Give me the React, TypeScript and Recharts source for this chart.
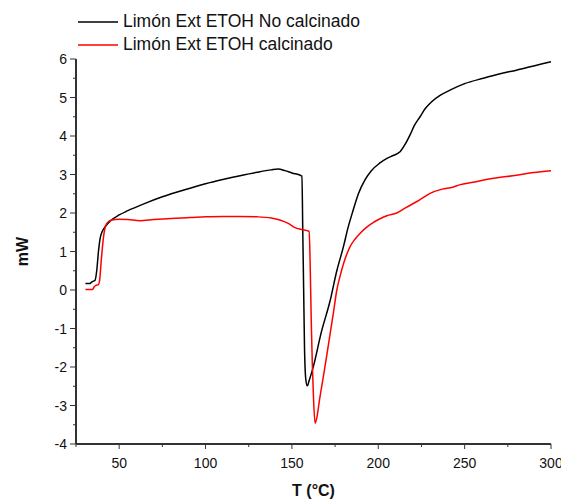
import React from 'react';
import { LineChart, Line, XAxis, YAxis, Legend, Label } from 'recharts';

// Temperature (°C) and heat flow (mW) for the uncalcined sample
const noCalcT = [30.5, 33, 34.5, 36, 37, 38, 39, 40, 42, 45, 50, 55, 65, 75, 90, 100, 110, 120, 130, 138, 142, 146, 150, 155.8, 156.3, 156.8, 157.3, 158, 158.9, 160, 162.4, 167, 172, 176, 179.8, 182.5, 185.5, 188.5, 192.3, 196, 201, 205, 209, 212.6, 215.5, 218.4, 221, 224.2, 227, 230.9, 236, 241.5, 250, 260.8, 270, 280, 290, 300];
const noCalcMw = [0.17, 0.17, 0.22, 0.25, 0.5, 1.0, 1.35, 1.5, 1.65, 1.8, 1.95, 2.06, 2.25, 2.42, 2.63, 2.76, 2.87, 2.97, 3.06, 3.12, 3.14, 3.1, 3.04, 2.96, 1.5, 0, -1.5, -2.3, -2.49, -2.35, -1.99, -1.1, -0.3, 0.5, 1.12, 1.62, 2.08, 2.5, 2.86, 3.1, 3.3, 3.42, 3.5, 3.59, 3.78, 4.03, 4.28, 4.5, 4.7, 4.89, 5.06, 5.19, 5.36, 5.5, 5.61, 5.71, 5.82, 5.93];

// Temperature (°C) and heat flow (mW) for the calcined sample
const calcT = [30.5, 34.5, 35.5, 36.5, 38, 38.8, 39.5, 40.5, 41.5, 42.8, 45.7, 50, 55, 62, 70, 80, 91, 100, 110, 120, 130, 138, 143, 147.9, 151.8, 155.6, 160, 160.6, 161.2, 161.8, 162.5, 163.4, 164.5, 166, 168.2, 170, 172, 174, 176, 178, 180, 183.6, 186.5, 189.4, 193, 197, 201, 205, 210.7, 216, 224, 230, 237, 243, 247, 255, 266.6, 280, 290, 300];
const calcMw = [0.01, 0.01, 0.08, 0.12, 0.14, 0.3, 0.7, 1.2, 1.55, 1.73, 1.82, 1.84, 1.83, 1.8, 1.83, 1.86, 1.88, 1.9, 1.91, 1.91, 1.9, 1.87, 1.82, 1.73, 1.62, 1.57, 1.52, 0.6, -0.8, -1.9, -2.8, -3.46, -3.3, -2.85, -2.25, -1.75, -1.17, -0.6, 0.0, 0.38, 0.7, 1.12, 1.32, 1.47, 1.62, 1.75, 1.85, 1.93, 2.0, 2.14, 2.34, 2.51, 2.62, 2.67, 2.73, 2.8, 2.9, 2.98, 3.05, 3.1];

const xTicks = [25, 50, 75, 100, 125, 150, 175, 200, 225, 250, 275, 300];
const yTicks = [-4, -3.5, -3, -2.5, -2, -1.5, -1, -0.5, 0, 0.5, 1, 1.5, 2, 2.5, 3, 3.5, 4, 4.5, 5, 5.5, 6];

const noCalcData = noCalcT.map((t, i) => ({ t, mw: noCalcMw[i] }));
const calcData = calcT.map((t, i) => ({ t, mw: calcMw[i] }));

const FONT = '"Liberation Sans", Arial, sans-serif';
const AXIS = '#333';

const isMajorX = (v: number) => v % 50 === 0;
const isMajorY = (v: number) => Number.isInteger(v);

const BottomTick = (props: any) => {
  const { x, y, payload } = props;
  const v = payload.value;
  const major = isMajorX(v);
  return (
    <g>
      <line x1={x} x2={x} y1={y} y2={y + (major ? 5 : 3)} stroke={AXIS} strokeWidth={1} />
      {major && (
        <text x={x} y={y + 24} textAnchor="middle" fontFamily={FONT} fontSize={14} fill="#111">
          {v}
        </text>
      )}
    </g>
  );
};

const TopTick = (props: any) => {
  const { x, y, payload } = props;
  const major = isMajorX(payload.value);
  return <line x1={x} x2={x} y1={y} y2={y + (major ? 4 : 3)} stroke={AXIS} strokeWidth={1} />;
};

const LeftTick = (props: any) => {
  const { x, y, payload } = props;
  const v = payload.value;
  const major = isMajorY(v);
  return (
    <g>
      <line x1={x - (major ? 6 : 3)} x2={x} y1={y} y2={y} stroke={AXIS} strokeWidth={1} />
      {major && (
        <text x={x - 9} y={y} dy="0.36em" textAnchor="end" fontFamily={FONT} fontSize={14} fill="#111">
          {v}
        </text>
      )}
    </g>
  );
};

const RightTick = (props: any) => {
  const { x, y, payload } = props;
  const major = isMajorY(payload.value);
  return <line x1={x - (major ? 4 : 3)} x2={x} y1={y} y2={y} stroke={AXIS} strokeWidth={1} />;
};

const renderLegend = (props: any) => {
  const { payload } = props;
  return (
    <div style={{ fontFamily: FONT, fontSize: 17.5, color: '#111' }}>
      {(payload || []).map((item: any) => (
        <div key={item.value} style={{ display: 'flex', alignItems: 'center', height: 23 }}>
          <svg width={40} height={4} style={{ display: 'block' }}>
            <line x1={0} x2={40} y1={2} y2={2} stroke={item.color} strokeWidth={1.5} />
          </svg>
          <span style={{ marginLeft: 5, whiteSpace: 'nowrap' }}>{item.value}</span>
        </div>
      ))}
    </div>
  );
};

export default function App() {
  return (
    <div style={{ position: 'absolute', left: 0, top: 0, width: 561, height: 500, background: '#fff' }}>
      <LineChart width={561} height={500} margin={{ top: 59, right: 10, bottom: 0, left: 0 }}>
        <XAxis
          xAxisId="bottom"
          dataKey="t"
          type="number"
          domain={[25, 300]}
          ticks={xTicks}
          interval={0}
          height={56}
          tickSize={0}
          tickMargin={0}
          tickLine={false}
          tick={<BottomTick />}
          axisLine={{ stroke: AXIS, strokeWidth: 2 }}
        >
          <Label
            content={(p: any) => {
              const vb = p.viewBox || {};
              return (
                <text x={vb.x + vb.width / 2} y={vb.y + 52} textAnchor="middle" fontFamily={FONT} fontSize={16} fontWeight="bold" fill="#111">
                  T (°C)
                </text>
              );
            }}
          />
        </XAxis>
        <XAxis
          xAxisId="top"
          orientation="top"
          dataKey="t"
          type="number"
          domain={[25, 300]}
          ticks={xTicks}
          interval={0}
          height={0}
          tickSize={0}
          tickMargin={0}
          tickLine={false}
          tick={<TopTick />}
          axisLine={{ stroke: AXIS, strokeWidth: 2 }}
        />
        <YAxis
          yAxisId="left"
          type="number"
          domain={[-4, 6]}
          ticks={yTicks}
          interval={0}
          width={76}
          tickSize={0}
          tickMargin={0}
          tickLine={false}
          tick={<LeftTick />}
          axisLine={{ stroke: AXIS, strokeWidth: 2 }}
        >
          <Label
            content={(p: any) => {
              const vb = p.viewBox || {};
              const cy = vb.y + vb.height / 2;
              return (
                <text x={22} y={cy} transform={`rotate(-90, 22, ${cy})`} dy="0.36em" textAnchor="middle" fontFamily={FONT} fontSize={16} fontWeight="bold" fill="#111">
                  mW
                </text>
              );
            }}
          />
        </YAxis>
        <YAxis
          yAxisId="right"
          orientation="right"
          type="number"
          domain={[-4, 6]}
          ticks={yTicks}
          interval={0}
          width={0}
          tickSize={0}
          tickMargin={0}
          tickLine={false}
          tick={<RightTick />}
          axisLine={{ stroke: AXIS, strokeWidth: 2 }}
        />
        <Legend
          layout="vertical"
          align="center"
          verticalAlign="middle"
          content={renderLegend}
          wrapperStyle={{ top: 10, left: 78, width: 400, height: 46 }}
        />
        <Line
          xAxisId="bottom"
          yAxisId="left"
          data={noCalcData}
          dataKey="mw"
          name="Limón Ext ETOH No calcinado"
          type="monotone"
          stroke="#000000"
          strokeWidth={1.5}
          dot={false}
          activeDot={false}
          isAnimationActive={false}
        />
        <Line
          xAxisId="bottom"
          yAxisId="left"
          data={calcData}
          dataKey="mw"
          name="Limón Ext ETOH calcinado"
          type="monotone"
          stroke="#ff0000"
          strokeWidth={1.5}
          dot={false}
          activeDot={false}
          isAnimationActive={false}
        />
      </LineChart>
    </div>
  );
}
